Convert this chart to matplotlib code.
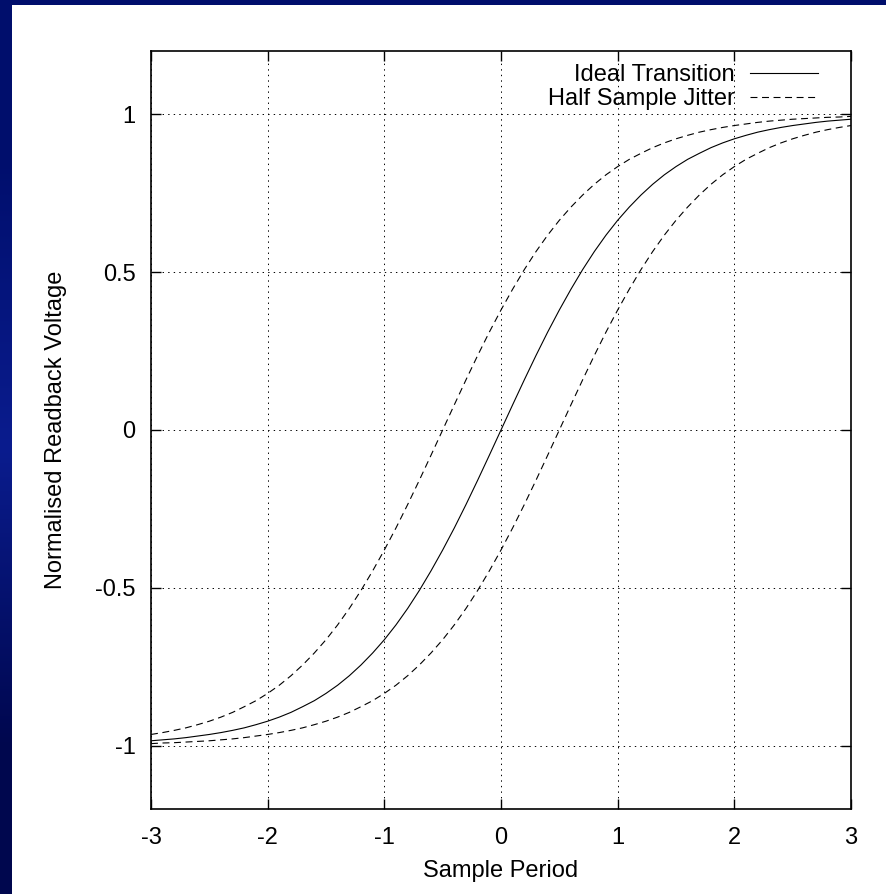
import numpy as np
import matplotlib
matplotlib.use("Agg")
import matplotlib.pyplot as plt
from matplotlib.patches import Rectangle

# Значения (шаг 0.1 по оси периода)
sample_period = [-3.0, -2.9, -2.8, -2.7, -2.6, -2.5, -2.4, -2.3, -2.2, -2.1,
                 -2.0, -1.9, -1.8, -1.7, -1.6, -1.5, -1.4, -1.3, -1.2, -1.1,
                 -1.0, -0.9, -0.8, -0.7, -0.6, -0.5, -0.4, -0.3, -0.2, -0.1,
                 0.0, 0.1, 0.2, 0.3, 0.4, 0.5, 0.6, 0.7, 0.8, 0.9,
                 1.0, 1.1, 1.2, 1.3, 1.4, 1.5, 1.6, 1.7, 1.8, 1.9,
                 2.0, 2.1, 2.2, 2.3, 2.4, 2.5, 2.6, 2.7, 2.8, 2.9, 3.0]
ideal_transition = [-0.984, -0.981, -0.978, -0.974, -0.969, -0.964, -0.958,
                    -0.951, -0.943, -0.933, -0.922, -0.909, -0.894, -0.876,
                    -0.857, -0.834, -0.808, -0.778, -0.744, -0.706, -0.664,
                    -0.617, -0.565, -0.508, -0.446, -0.380, -0.310, -0.236,
                    -0.159, -0.080, 0.000, 0.080, 0.159, 0.236, 0.310, 0.380,
                    0.446, 0.508, 0.565, 0.617, 0.664, 0.706, 0.744, 0.778,
                    0.808, 0.834, 0.857, 0.876, 0.894, 0.909, 0.922, 0.933,
                    0.943, 0.951, 0.958, 0.964, 0.969, 0.974, 0.978, 0.981,
                    0.984]
jitter_early = [-0.964, -0.958, -0.951, -0.943, -0.933, -0.922, -0.909,
                -0.894, -0.876, -0.857, -0.834, -0.808, -0.778, -0.744,
                -0.706, -0.664, -0.617, -0.565, -0.508, -0.446, -0.380,
                -0.310, -0.236, -0.159, -0.080, 0.000, 0.080, 0.159, 0.236,
                0.310, 0.380, 0.446, 0.508, 0.565, 0.617, 0.664, 0.706, 0.744,
                0.778, 0.808, 0.834, 0.857, 0.876, 0.894, 0.909, 0.922, 0.933,
                0.943, 0.951, 0.958, 0.964, 0.969, 0.974, 0.978, 0.981, 0.984,
                0.986, 0.988, 0.990, 0.991, 0.993]
jitter_late = [-0.993, -0.991, -0.990, -0.988, -0.986, -0.984, -0.981,
               -0.978, -0.974, -0.969, -0.964, -0.958, -0.951, -0.943,
               -0.933, -0.922, -0.909, -0.894, -0.876, -0.857, -0.834,
               -0.808, -0.778, -0.744, -0.706, -0.664, -0.617, -0.565,
               -0.508, -0.446, -0.380, -0.310, -0.236, -0.159, -0.080, 0.000,
               0.080, 0.159, 0.236, 0.310, 0.380, 0.446, 0.508, 0.565, 0.617,
               0.664, 0.706, 0.744, 0.778, 0.808, 0.834, 0.857, 0.876, 0.894,
               0.909, 0.922, 0.933, 0.943, 0.951, 0.958, 0.964]
x_ticks = [-3, -2, -1, 0, 1, 2, 3]
y_ticks = [-1, -0.5, 0, 0.5, 1]
y_tick_labels = ["-1", "-0.5", "0", "0.5", "1"]

plt.rcParams['font.family'] = ['Liberation Sans', 'DejaVu Sans']
plt.rcParams['lines.scale_dashes'] = False
FS = 17

W, H = 886, 894
fig = plt.figure(figsize=(W / 100, H / 100), dpi=100)
fig.patch.set_facecolor('#000e6c')

# синяя рамка слайда: градиент слева
strip = fig.add_axes([0, 0, 12 / W, 1])
grad = np.array([[0.0], [0.5], [1.0]])
cmap = matplotlib.colors.LinearSegmentedColormap.from_list(
    'slide', ['#00074e', '#0a1c8e', '#000e6c'])
strip.imshow(grad, aspect='auto', cmap=cmap, origin='lower',
             interpolation='bilinear', extent=[0, 1, 0, 1])
strip.axis('off')

fig.patches.append(Rectangle((12 / W, 0), 1 - 12 / W, 1 - 5 / H,
                             transform=fig.transFigure, facecolor='white',
                             edgecolor='none', zorder=-5))

ax = fig.add_axes([151 / W, 85 / H, 700 / W, 758 / H])
ax.set_facecolor('white')

ax.plot(sample_period, ideal_transition, color='black', lw=0.8,
        label='Ideal Transition')
ax.plot(sample_period, jitter_early, color='black', lw=0.8,
        dashes=(5.0, 3.3), label='Half Sample Jitter')
ax.plot(sample_period, jitter_late, color='black', lw=0.8, dashes=(5.0, 3.3))

ax.set_xlim(-3, 3)
ax.set_ylim(-1.2, 1.2)
ax.set_xticks(x_ticks)
ax.set_xticklabels([str(t) for t in x_ticks])
ax.set_yticks(y_ticks)
ax.set_yticklabels(y_tick_labels)

ax.grid(True, color='black', lw=0.7, linestyle=(0, (1, 3)))
ax.tick_params(direction='in', length=7.5, width=1.0, top=True, right=True,
               labelsize=FS)
ax.tick_params(axis='x', pad=13)
ax.tick_params(axis='y', pad=11)
for s in ax.spines.values():
    s.set_linewidth(1.2)

ax.set_xlabel('Sample Period', fontsize=FS, labelpad=8)
ax.set_ylabel('Normalised Readback Voltage', fontsize=FS, labelpad=20.5)

ax.legend(loc='upper right', bbox_to_anchor=(0.953, 0.983), frameon=False,
          markerfirst=False, fontsize=FS, handlelength=2.88,
          handletextpad=0.64, borderaxespad=0, borderpad=0, labelspacing=0.09)

fig.savefig('out.png', dpi=100, facecolor=fig.get_facecolor())
